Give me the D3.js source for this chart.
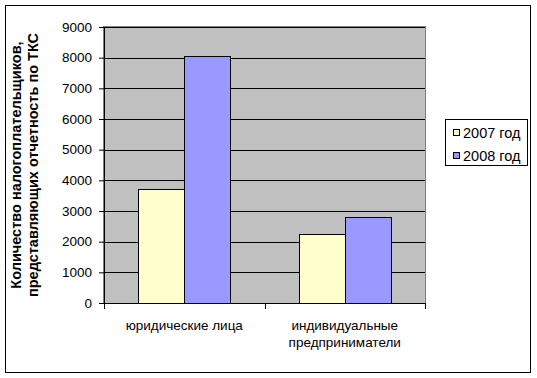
<!DOCTYPE html>
<html>
<head>
<meta charset="utf-8">
<script src="https://cdn.jsdelivr.net/npm/d3@7"></script>
<style>
  body { margin: 0; background: #fff; }
  text { font-family: "Liberation Sans", Arial, sans-serif; fill: #000; }
</style>
</head>
<body>
<svg id="mychart" width="537" height="378"></svg>
<script>
// chart data
const categories = ["юридические лица", "индивидуальные предприниматели"];
const seriesNames = ["2007 год", "2008 год"];
const values2007 = [3730, 2245];
const values2008 = [8060, 2800];
const yTicks = [0, 1000, 2000, 3000, 4000, 5000, 6000, 7000, 8000, 9000];
const yTitle = ["Количество налогоплательщиков,", "представляющих отчетность по ТКС"];

const colors = ["#FFFFCC", "#9999FF"];
const data = categories.map((c, i) => ({ cat: c, vals: [values2007[i], values2008[i]] }));

const svg = d3.select("#mychart");
const plot = { left: 104, right: 425, top: 27, bottom: 303 };

// outer chart border
svg.append("rect")
  .attr("x", 5.5).attr("y", 5.5)
  .attr("width", 525).attr("height", 367)
  .attr("fill", "#fff").attr("stroke", "#000");

const y = d3.scaleLinear().domain([0, 9000]).range([plot.bottom, plot.top]);
const x0 = d3.scaleBand().domain(categories).range([plot.left, plot.right]);
const x1 = d3.scaleBand().domain(seriesNames).range([0, x0.bandwidth()])
  .paddingInner(0).paddingOuter(0.75);

// plot area
svg.append("rect")
  .attr("x", plot.left - 0.5).attr("y", plot.top - 0.5)
  .attr("width", plot.right - plot.left + 1).attr("height", plot.bottom - plot.top + 1)
  .attr("fill", "#C0C0C0").attr("stroke", "#808080");

// gridlines
svg.append("g")
  .selectAll("line")
  .data(yTicks.filter((d) => d > 0))
  .join("line")
  .attr("x1", plot.left).attr("x2", plot.right)
  .attr("y1", (d) => Math.round(y(d)) + 0.5)
  .attr("y2", (d) => Math.round(y(d)) + 0.5)
  .attr("stroke", "#000");

// bars
const groups = svg.append("g")
  .selectAll("g")
  .data(data)
  .join("g");
groups.selectAll("rect")
  .data((d) => d.vals.map((v, i) => ({ s: seriesNames[i], v: v, cat: d.cat, i: i })))
  .join("rect")
  .attr("x", (d) => Math.round(x0(d.cat) + x1(d.s)) + 0.5)
  .attr("width", (d) => Math.round(x0(d.cat) + x1(d.s) + x1.bandwidth()) - Math.round(x0(d.cat) + x1(d.s)))
  .attr("y", (d) => Math.round(y(d.v)) + 0.5)
  .attr("height", (d) => plot.bottom - Math.round(y(d.v)))
  .attr("fill", (d) => colors[d.i])
  .attr("stroke", "#000");

// y axis
const yAxis = svg.append("g")
  .attr("transform", `translate(${plot.left},0)`)
  .call(d3.axisLeft(y).tickValues(yTicks).tickSize(5).tickPadding(7).tickFormat(d3.format("d")));
yAxis.select(".domain").attr("stroke", "#000");
yAxis.selectAll("text").style("font-size", "13.5px").attr("font-family", null);

// x axis line and category ticks
svg.append("line")
  .attr("x1", plot.left - 0.5).attr("x2", plot.right + 0.5)
  .attr("y1", plot.bottom + 0.5).attr("y2", plot.bottom + 0.5)
  .attr("stroke", "#000");
const bounds = categories.map((c) => x0(c)).concat([plot.right]);
svg.append("g")
  .selectAll("line")
  .data(bounds)
  .join("line")
  .attr("x1", (d) => Math.round(d) + 0.5).attr("x2", (d) => Math.round(d) + 0.5)
  .attr("y1", plot.bottom).attr("y2", plot.bottom + 6)
  .attr("stroke", "#000");

// category labels, wrapped to the band width
const catLabels = svg.append("g")
  .selectAll("text")
  .data(categories)
  .join("text")
  .attr("text-anchor", "middle")
  .style("font-size", "13.5px")
  .attr("x", (d) => x0(d) + x0.bandwidth() / 2)
  .attr("y", 330);
catLabels.each(function (d) {
  const t = d3.select(this);
  const words = d.split(" ");
  const maxW = x0.bandwidth() - 20;
  let lines = [], line = [];
  words.forEach((w) => {
    line.push(w);
    t.text(line.join(" "));
    if (this.getComputedTextLength() > maxW && line.length > 1) {
      line.pop();
      lines.push(line.join(" "));
      line = [w];
    }
  });
  lines.push(line.join(" "));
  t.text(null);
  lines.forEach((l, i) => {
    t.append("tspan").attr("x", x0(d) + x0.bandwidth() / 2).attr("dy", i === 0 ? 0 : 17).text(l);
  });
});

// y axis title
const title = svg.append("text")
  .attr("transform", `translate(21,${(plot.top + plot.bottom) / 2}) rotate(-90)`)
  .attr("text-anchor", "middle")
  .style("font-size", "14.5px")
  .style("font-weight", "bold");
yTitle.forEach((l, i) => {
  title.append("tspan").attr("x", 0).attr("y", i * 16.5).text(l);
});

// legend
const legend = svg.append("g");
legend.append("rect")
  .attr("x", 445.5).attr("y", 119.5)
  .attr("width", 82).attr("height", 46)
  .attr("fill", "#fff").attr("stroke", "#000");
const items = legend.selectAll("g")
  .data(seriesNames)
  .join("g")
  .attr("transform", (d, i) => `translate(0,${i * 23})`);
items.append("rect")
  .attr("x", 453.5).attr("y", 129.5)
  .attr("width", 6).attr("height", 6)
  .attr("fill", (d, i) => colors[i])
  .attr("stroke", "#000");
items.append("text")
  .attr("x", 463).attr("y", 137.5)
  .style("font-size", "14.5px")
  .text((d) => d);
</script>
</body>
</html>
